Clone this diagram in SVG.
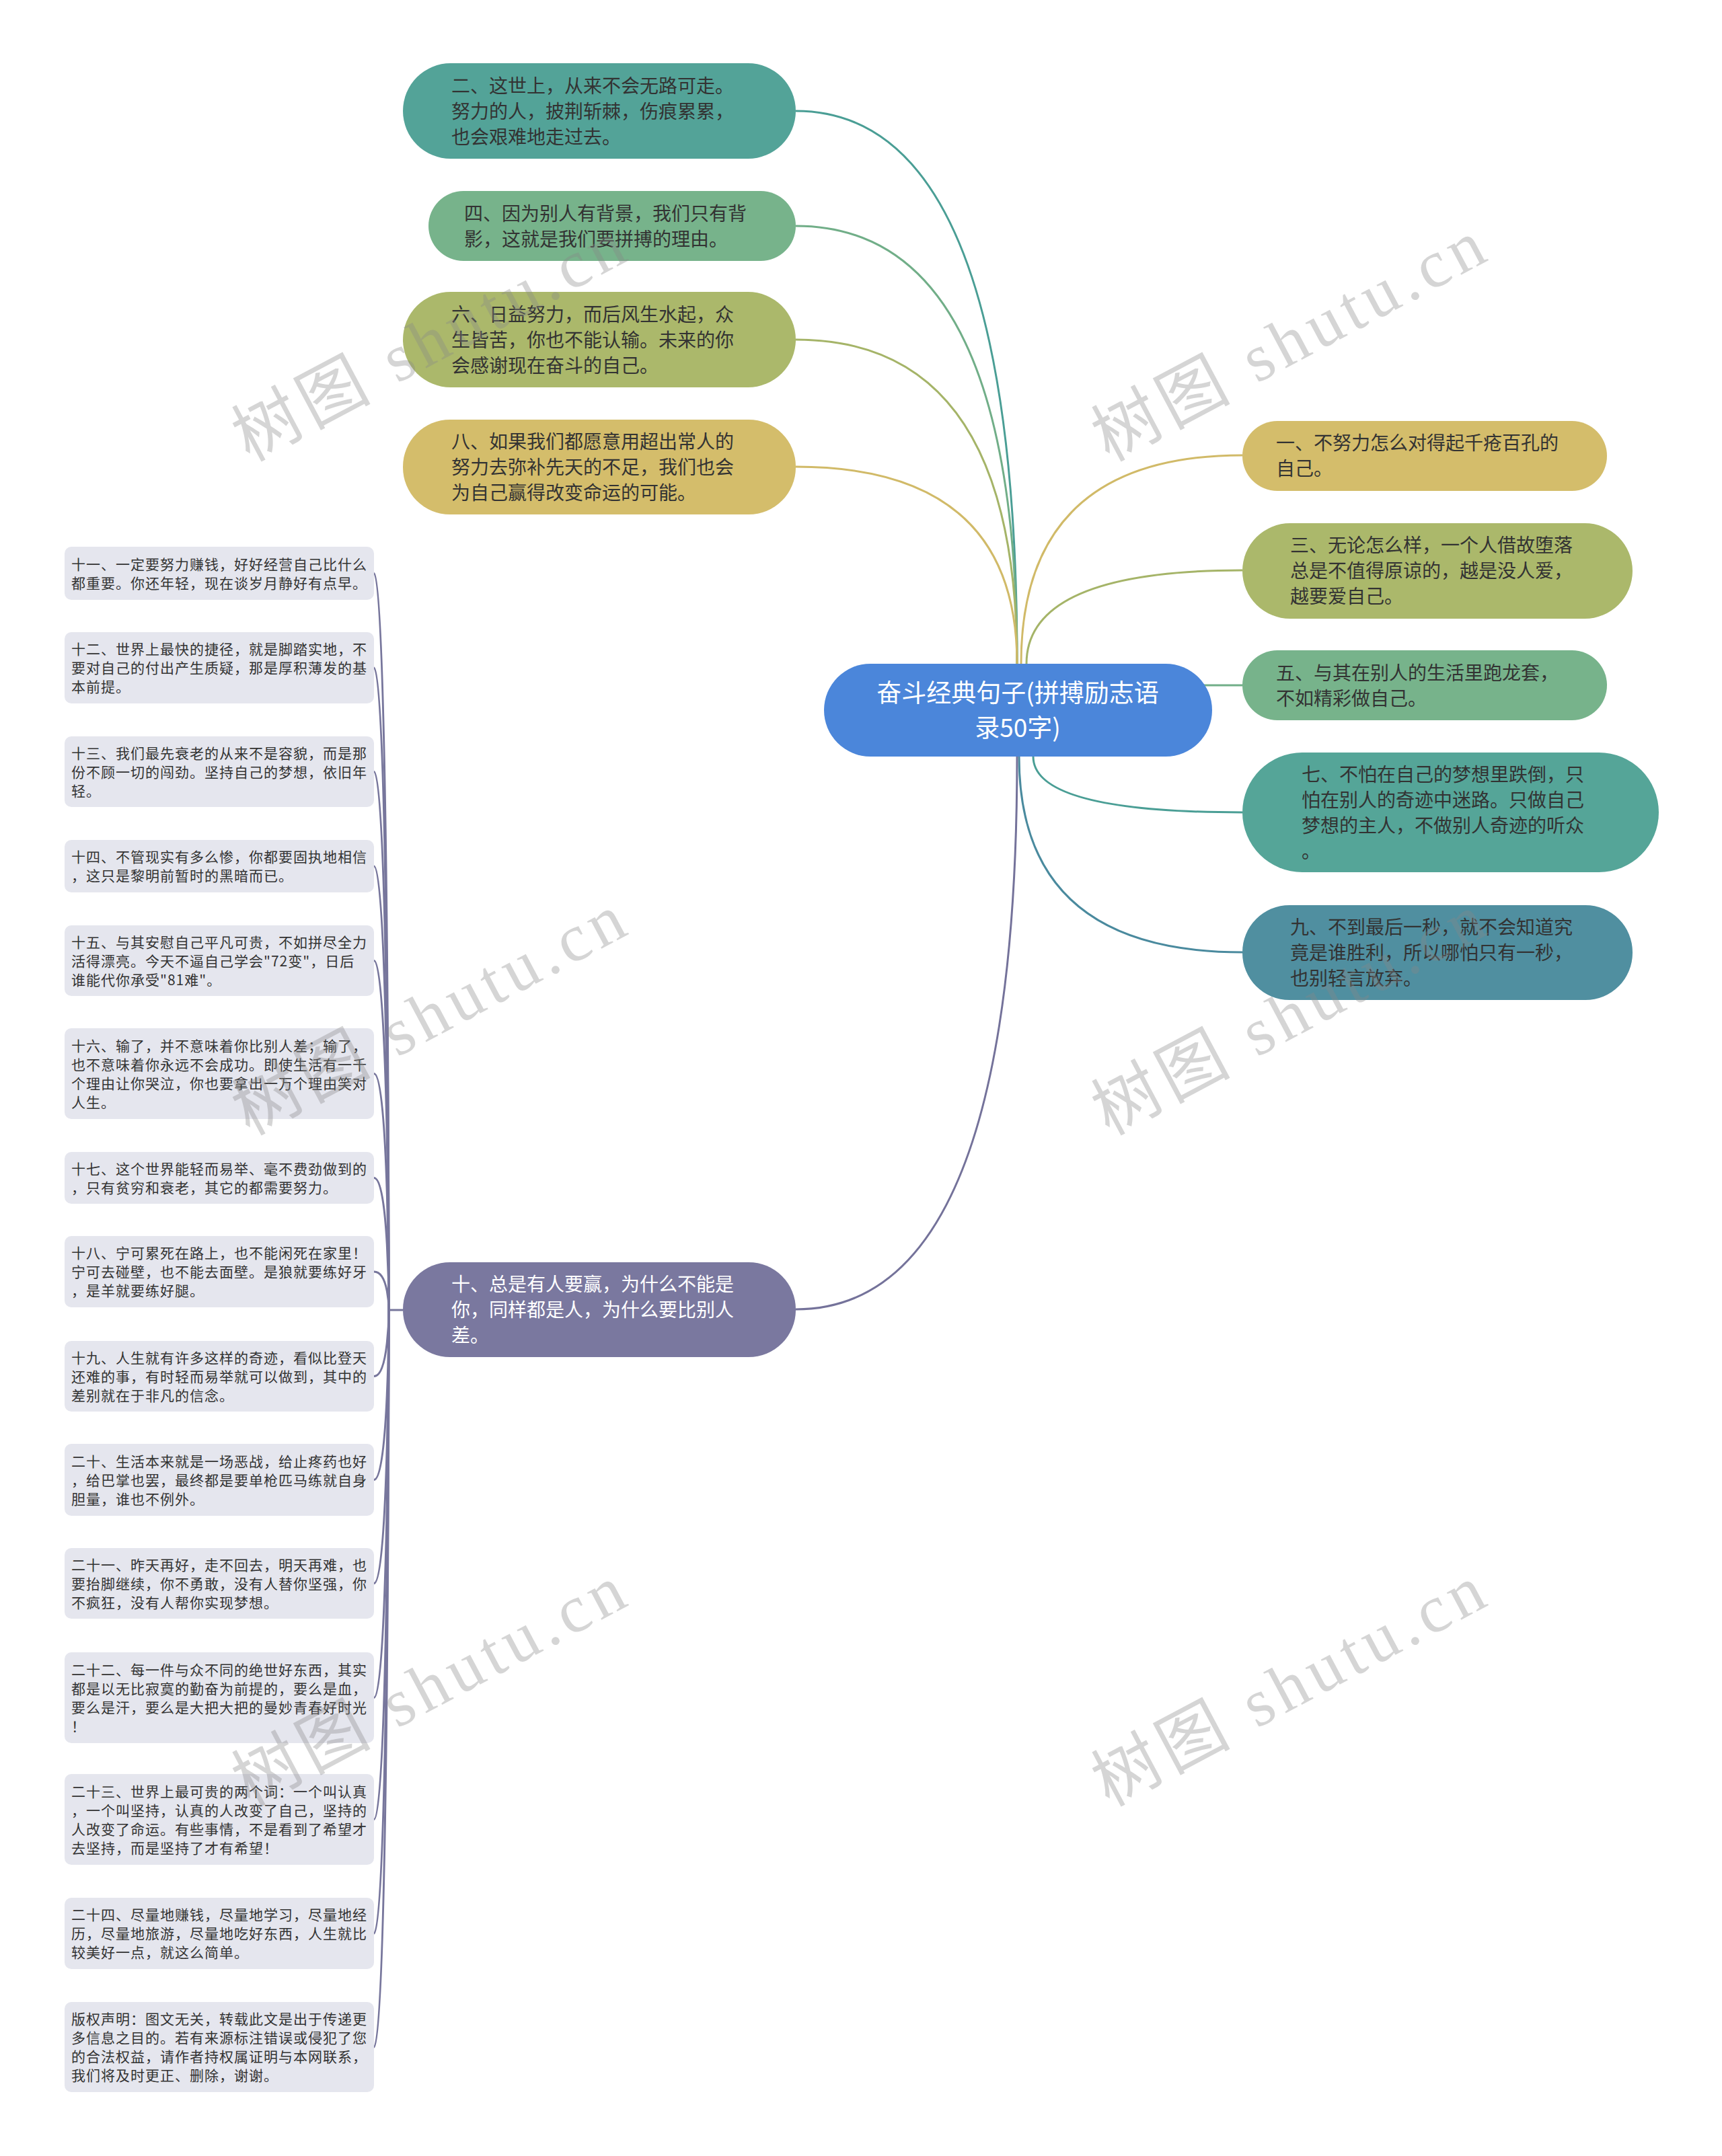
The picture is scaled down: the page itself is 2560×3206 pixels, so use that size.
<svg xmlns="http://www.w3.org/2000/svg" width="2560" height="3206" viewBox="0 0 2560 3206">
<style>
text{font-family:"Noto Sans CJK SC","Noto Sans",sans-serif}
.n text{font-size:28px;fill:#333}
.n.w text{fill:#fff}
.c text{font-size:37px;fill:#fff}
.l rect{fill:#e5e6ee}
.l text{font-size:21px;letter-spacing:1px;fill:#333}
.cn path{fill:none;stroke-width:3}
.lc path{fill:none;stroke:#77769c;stroke-width:3}
.wm{font-family:"Liberation Serif","Noto Sans CJK SC",serif;font-size:100px;letter-spacing:8px;fill:#888;opacity:.35}
</style>
<rect width="2560" height="3206" fill="#fff"/>
<g id="connectors">
<g class="cn">
<path d="M1512 987Q1512 165 1183 165" stroke="#4a9e95"/>
<path d="M1512 987Q1512 336 1183 336" stroke="#71ae88"/>
<path d="M1512 987Q1512 505 1183 505" stroke="#a5b468"/>
<path d="M1512 987Q1512 694 1183 694" stroke="#d1ba68"/>
<path d="M1518 987Q1518 677 1847 677" stroke="#d1ba68"/>
<path d="M1526 987Q1526 848 1847 848" stroke="#a5b468"/>
<path d="M1780 1019L1847 1019" stroke="#71ae88"/>
<path d="M1536 1125Q1536 1208 1847 1208" stroke="#4a9e95"/>
<path d="M1515 1125Q1515 1416 1847 1416" stroke="#4a8a9e"/>
<path d="M1512 1125Q1512 1947 1183 1947" stroke="#74729a"/>
</g>
<g class="lc">
<path d="M578 1948L599 1948"/>
<path d="M556 852.5C578 852.5 578 1948 578 1948"/>
<path d="M556 993C578 993 578 1948 578 1948"/>
<path d="M556 1147.5C578 1147.5 578 1948 578 1948"/>
<path d="M556 1288C578 1288 578 1948 578 1948"/>
<path d="M556 1428.5C578 1428.5 578 1948 578 1948"/>
<path d="M556 1596.5C578 1596.5 578 1948 578 1948"/>
<path d="M556 1751.5C578 1751.5 578 1948 578 1948"/>
<path d="M556 1891C578 1891 578 1948 578 1948"/>
<path d="M556 2046.5C578 2046.5 578 1948 578 1948"/>
<path d="M556 2200.5C578 2200.5 578 1948 578 1948"/>
<path d="M556 2354.5C578 2354.5 578 1948 578 1948"/>
<path d="M556 2524.5C578 2524.5 578 1948 578 1948"/>
<path d="M556 2705.5C578 2705.5 578 1948 578 1948"/>
<path d="M556 2875C578 2875 578 1948 578 1948"/>
<path d="M556 3044C578 3044 578 1948 578 1948"/>
</g>
</g>
<g id="root" class="c">
<rect x="1225" y="987" width="577" height="138" rx="69" fill="#4b86da"/>
<text x="1513" y="1044" text-anchor="middle">奋斗经典句子(拼搏励志语</text>
<text x="1513" y="1096" text-anchor="middle">录50字)</text>
</g>
<g id="n2" class="n">
<rect x="599" y="94" width="584" height="142" rx="71" fill="#53a398"/>
<text x="671" y="137.5">二、这世上，从来不会无路可走。</text>
<text x="671" y="175.5">努力的人，披荆斩棘，伤痕累累，</text>
<text x="671" y="213.5">也会艰难地走过去。</text>
</g>
<g id="n4" class="n">
<rect x="637" y="284" width="546" height="104" rx="52" fill="#77b38b"/>
<text x="690" y="327.5">四、因为别人有背景，我们只有背</text>
<text x="690" y="365.5">影，这就是我们要拼搏的理由。</text>
</g>
<g id="n6" class="n">
<rect x="599" y="434" width="584" height="142" rx="71" fill="#abb86b"/>
<text x="671" y="477.5">六、日益努力，而后风生水起，众</text>
<text x="671" y="515.5">生皆苦，你也不能认输。未来的你</text>
<text x="671" y="553.5">会感谢现在奋斗的自己。</text>
</g>
<g id="n8" class="n">
<rect x="599" y="624" width="584" height="141" rx="70" fill="#d4bd6b"/>
<text x="671" y="667">八、如果我们都愿意用超出常人的</text>
<text x="671" y="705">努力去弥补先天的不足，我们也会</text>
<text x="671" y="743">为自己赢得改变命运的可能。</text>
</g>
<g id="n10" class="n w">
<rect x="599" y="1877" width="584" height="141" rx="70" fill="#7a789f"/>
<text x="671" y="1920">十、总是有人要赢，为什么不能是</text>
<text x="671" y="1958">你，同样都是人，为什么要比别人</text>
<text x="671" y="1996">差。</text>
</g>
<g id="n1" class="n">
<rect x="1847" y="626" width="542" height="104" rx="52" fill="#d4bd6b"/>
<text x="1897" y="669">一、不努力怎么对得起千疮百孔的</text>
<text x="1897" y="707">自己。</text>
</g>
<g id="n3" class="n">
<rect x="1847" y="778" width="580" height="142" rx="71" fill="#abb86b"/>
<text x="1918" y="821">三、无论怎么样，一个人借故堕落</text>
<text x="1918" y="859">总是不值得原谅的，越是没人爱，</text>
<text x="1918" y="897">越要爱自己。</text>
</g>
<g id="n5" class="n">
<rect x="1847" y="967" width="542" height="104" rx="52" fill="#77b38b"/>
<text x="1897" y="1010.5">五、与其在别人的生活里跑龙套，</text>
<text x="1897" y="1048.5">不如精彩做自己。</text>
</g>
<g id="n7" class="n">
<rect x="1847" y="1119" width="619" height="178" rx="89" fill="#55a598"/>
<text x="1935" y="1161.5">七、不怕在自己的梦想里跌倒，只</text>
<text x="1935" y="1199.5">怕在别人的奇迹中迷路。只做自己</text>
<text x="1935" y="1237.5">梦想的主人，不做别人奇迹的听众</text>
<text x="1935" y="1275.5">。</text>
</g>
<g id="n9" class="n">
<rect x="1847" y="1346" width="580" height="141" rx="70" fill="#508fa0"/>
<text x="1918" y="1389">九、不到最后一秒，就不会知道究</text>
<text x="1918" y="1427">竟是谁胜利，所以哪怕只有一秒，</text>
<text x="1918" y="1465">也别轻言放弃。</text>
</g>
<g id="l11" class="l">
<rect x="96" y="813" width="460" height="79" rx="10"/>
<text x="106" y="846.5">十一、一定要努力赚钱，好好经营自己比什么</text>
<text x="106" y="874.5">都重要。你还年轻，现在谈岁月静好有点早。</text>
</g>
<g id="l12" class="l">
<rect x="96" y="940" width="460" height="106" rx="10"/>
<text x="106" y="973">十二、世界上最快的捷径，就是脚踏实地，不</text>
<text x="106" y="1001">要对自己的付出产生质疑，那是厚积薄发的基</text>
<text x="106" y="1029">本前提。</text>
</g>
<g id="l13" class="l">
<rect x="96" y="1095" width="460" height="105" rx="10"/>
<text x="106" y="1127.5">十三、我们最先衰老的从来不是容貌，而是那</text>
<text x="106" y="1155.5">份不顾一切的闯劲。坚持自己的梦想，依旧年</text>
<text x="106" y="1183.5">轻。</text>
</g>
<g id="l14" class="l">
<rect x="96" y="1249" width="460" height="78" rx="10"/>
<text x="106" y="1282">十四、不管现实有多么惨，你都要固执地相信</text>
<text x="106" y="1310">，这只是黎明前暂时的黑暗而已。</text>
</g>
<g id="l15" class="l">
<rect x="96" y="1376" width="460" height="105" rx="10"/>
<text x="106" y="1408.5">十五、与其安慰自己平凡可贵，不如拼尽全力</text>
<text x="106" y="1436.5">活得漂亮。今天不逼自己学会"72变"，日后</text>
<text x="106" y="1464.5">谁能代你承受"81难"。</text>
</g>
<g id="l16" class="l">
<rect x="96" y="1529" width="460" height="135" rx="10"/>
<text x="106" y="1562.5">十六、输了，并不意味着你比别人差；输了，</text>
<text x="106" y="1590.5">也不意味着你永远不会成功。即使生活有一千</text>
<text x="106" y="1618.5">个理由让你哭泣，你也要拿出一万个理由笑对</text>
<text x="106" y="1646.5">人生。</text>
</g>
<g id="l17" class="l">
<rect x="96" y="1713" width="460" height="77" rx="10"/>
<text x="106" y="1745.5">十七、这个世界能轻而易举、毫不费劲做到的</text>
<text x="106" y="1773.5">，只有贫穷和衰老，其它的都需要努力。</text>
</g>
<g id="l18" class="l">
<rect x="96" y="1838" width="460" height="106" rx="10"/>
<text x="106" y="1871">十八、宁可累死在路上，也不能闲死在家里！</text>
<text x="106" y="1899">宁可去碰壁，也不能去面壁。是狼就要练好牙</text>
<text x="106" y="1927">，是羊就要练好腿。</text>
</g>
<g id="l19" class="l">
<rect x="96" y="1994" width="460" height="105" rx="10"/>
<text x="106" y="2026.5">十九、人生就有许多这样的奇迹，看似比登天</text>
<text x="106" y="2054.5">还难的事，有时轻而易举就可以做到，其中的</text>
<text x="106" y="2082.5">差别就在于非凡的信念。</text>
</g>
<g id="l20" class="l">
<rect x="96" y="2147" width="460" height="107" rx="10"/>
<text x="106" y="2180.5">二十、生活本来就是一场恶战，给止疼药也好</text>
<text x="106" y="2208.5">，给巴掌也罢，最终都是要单枪匹马练就自身</text>
<text x="106" y="2236.5">胆量，谁也不例外。</text>
</g>
<g id="l21" class="l">
<rect x="96" y="2302" width="460" height="105" rx="10"/>
<text x="106" y="2334.5">二十一、昨天再好，走不回去，明天再难，也</text>
<text x="106" y="2362.5">要抬脚继续，你不勇敢，没有人替你坚强，你</text>
<text x="106" y="2390.5">不疯狂，没有人帮你实现梦想。</text>
</g>
<g id="l22" class="l">
<rect x="96" y="2457" width="460" height="135" rx="10"/>
<text x="106" y="2490.5">二十二、每一件与众不同的绝世好东西，其实</text>
<text x="106" y="2518.5">都是以无比寂寞的勤奋为前提的，要么是血，</text>
<text x="106" y="2546.5">要么是汗，要么是大把大把的曼妙青春好时光</text>
<text x="106" y="2574.5">！</text>
</g>
<g id="l23" class="l">
<rect x="96" y="2638" width="460" height="135" rx="10"/>
<text x="106" y="2671.5">二十三、世界上最可贵的两个词：一个叫认真</text>
<text x="106" y="2699.5">，一个叫坚持，认真的人改变了自己，坚持的</text>
<text x="106" y="2727.5">人改变了命运。有些事情，不是看到了希望才</text>
<text x="106" y="2755.5">去坚持，而是坚持了才有希望！</text>
</g>
<g id="l24" class="l">
<rect x="96" y="2822" width="460" height="106" rx="10"/>
<text x="106" y="2855">二十四、尽量地赚钱，尽量地学习，尽量地经</text>
<text x="106" y="2883">历，尽量地旅游，尽量地吃好东西，人生就比</text>
<text x="106" y="2911">较美好一点，就这么简单。</text>
</g>
<g id="l25" class="l">
<rect x="96" y="2977" width="460" height="134" rx="10"/>
<text x="106" y="3010">版权声明：图文无关，转载此文是出于传递更</text>
<text x="106" y="3038">多信息之目的。若有来源标注错误或侵犯了您</text>
<text x="106" y="3066">的合法权益，请作者持权属证明与本网联系，</text>
<text x="106" y="3094">我们将及时更正、删除，谢谢。</text>
</g>
<g id="watermarks">
<text class="wm" text-anchor="middle" transform="translate(657 535) rotate(-28)">树图 shutu.cn</text>
<text class="wm" text-anchor="middle" transform="translate(1935 535) rotate(-28)">树图 shutu.cn</text>
<text class="wm" text-anchor="middle" transform="translate(657 1537) rotate(-28)">树图 shutu.cn</text>
<text class="wm" text-anchor="middle" transform="translate(1935 1537) rotate(-28)">树图 shutu.cn</text>
<text class="wm" text-anchor="middle" transform="translate(657 2535) rotate(-28)">树图 shutu.cn</text>
<text class="wm" text-anchor="middle" transform="translate(1935 2535) rotate(-28)">树图 shutu.cn</text>
</g>
</svg>
